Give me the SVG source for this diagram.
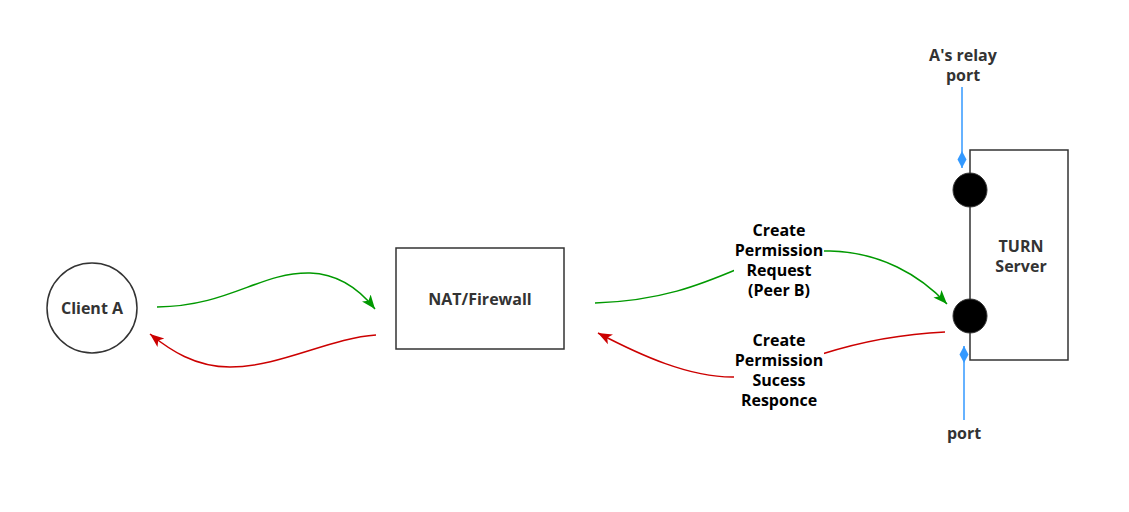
<svg xmlns="http://www.w3.org/2000/svg" width="1129" height="512" viewBox="0 0 1129 512">
<style>
text{font-family:"Open Sans","Liberation Sans",sans-serif;font-weight:bold;font-size:16px;text-anchor:middle}
.node{fill:#333333}
.lbl{fill:#000000}
.shape{fill:#ffffff;stroke:#333333;stroke-width:1.5}
.g{fill:none;stroke:#009900;stroke-width:1.5}
.r{fill:none;stroke:#CC0000;stroke-width:1.5}
.b{fill:none;stroke:#3399FF;stroke-width:1.5}
.port{fill:#000000;stroke:#333333;stroke-width:1}
</style>
<defs>
<marker id="ag" markerUnits="userSpaceOnUse" markerWidth="16" markerHeight="13" refX="14" refY="5.5" orient="auto" viewBox="0 0 16 11">
<path d="M0,0 L14,5.5 L0,11 L3.5,5.5 z" fill="#009900"/>
</marker>
<marker id="ar" markerUnits="userSpaceOnUse" markerWidth="16" markerHeight="13" refX="14" refY="5.5" orient="auto" viewBox="0 0 16 11">
<path d="M0,0 L14,5.5 L0,11 L3.5,5.5 z" fill="#CC0000"/>
</marker>
<marker id="db" markerUnits="userSpaceOnUse" markerWidth="18" markerHeight="10" refX="17" refY="5" orient="auto" viewBox="0 0 18 10">
<path d="M0,5 L8.5,0.5 L17,5 L8.5,9.5 z" fill="#3399FF"/>
</marker>
</defs>
<g id="connectors">
<path class="g" d="M157,307 C230,306 260,272 310,273 C340,274 360,290 375,309" marker-end="url(#ag)"/>
<path class="r" d="M376,335 C330,338 280,367 230,367 C195,367 170,350 150,334" marker-end="url(#ar)"/>
<path class="g" d="M595,303 C660,301 700,285 740,268 C770,256 800,250 830,251 C880,252 920,275 947,304" marker-end="url(#ag)"/>
<path class="r" d="M945,332 C900,334 860,342 822,354 C790,365 760,377 735,377 C690,378 640,355 598,333" marker-end="url(#ar)"/>
<path class="b" d="M962,87 L962,168" marker-end="url(#db)"/>
<path class="b" d="M964,420 L964,346" marker-end="url(#db)"/>
</g>
<g id="label-request">
<rect x="734" y="218" width="90" height="80" fill="#ffffff"/>
<text class="lbl" x="779" y="236">Create</text>
<text class="lbl" x="779" y="256">Permission</text>
<text class="lbl" x="779" y="276">Request</text>
<text class="lbl" x="779" y="296">(Peer B)</text>
</g>
<g id="label-response">
<rect x="734" y="328" width="90" height="80" fill="#ffffff"/>
<text class="lbl" x="779" y="346">Create</text>
<text class="lbl" x="779" y="366">Permission</text>
<text class="lbl" x="779" y="386">Sucess</text>
<text class="lbl" x="779" y="406">Responce</text>
</g>
<g id="client-a">
<circle class="shape" cx="92" cy="308" r="45"/>
<text class="node" x="92" y="314">Client A</text>
</g>
<g id="nat-firewall">
<rect class="shape" x="396" y="248" width="168" height="101"/>
<text class="node" x="480" y="305">NAT/Firewall</text>
</g>
<g id="turn-server">
<rect class="shape" x="970" y="150" width="98" height="210"/>
<text class="node" x="1021" y="252">TURN</text>
<text class="node" x="1021" y="272">Server</text>
</g>
<g id="relay-port">
<circle class="port" cx="970" cy="190" r="17"/>
</g>
<g id="client-port">
<circle class="port" cx="970" cy="316" r="17"/>
</g>
<g id="label-relay">
<text class="node" x="963" y="61">A's relay</text>
<text class="node" x="963" y="81">port</text>
</g>
<g id="label-port">
<text class="node" x="964" y="439">port</text>
</g>
</svg>
